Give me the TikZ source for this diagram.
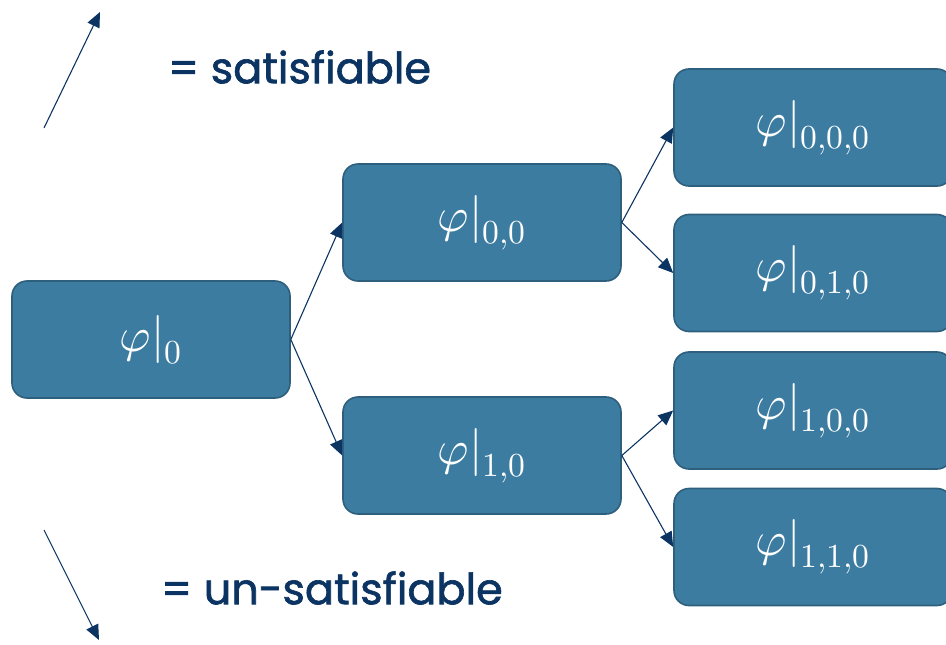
\documentclass[tikz,border=0pt]{standalone}
\usepackage{fontspec}
\usepackage{unicode-math}
\setmainfont{Poppins}[FakeBold=1.5]
\setmathfont{Latin Modern Math}
\usetikzlibrary{arrows.meta}
\definecolor{boxfill}{HTML}{3D7CA1}
\definecolor{boxedge}{HTML}{2E5F7C}
\definecolor{navy}{HTML}{0B3462}
\tikzset{
  state/.style={draw=boxedge, line width=1.6pt, fill=boxfill, rounded corners=15pt,
    minimum width=278pt, minimum height=117pt, inner sep=0pt, text=white,
    font=\fontsize{48}{54}\selectfont},
  link/.style={draw=navy, line width=1.1pt, -{Triangle[length=15pt, width=13pt]}},
  legend/.style={text=navy, font=\fontsize{43}{48}\selectfont, anchor=west, inner sep=0pt}
}
\newcommand{\restr}[1]{$\varphi|_{#1}$}
\begin{document}
\begin{tikzpicture}[x=1pt, y=-1pt]
  \useasboundingbox (0,0) rectangle (946,645);
  \begin{scope}
    \clip (0,0) rectangle (946,645);
    \node[state] (r)   at (151,339.5) {\restr{0}};
    \node[state] (a)   at (482,222.5) {\restr{0,0}};
    \node[state] (b)   at (482,455.5) {\restr{1,0}};
    \node[state] (aa)  at (813,127.5) {\restr{0,0,0}};
    \node[state] (ab)  at (813,273)   {\restr{0,1,0}};
    \node[state] (ba)  at (813,410.5) {\restr{1,0,0}};
    \node[state] (bb)  at (813,547)   {\restr{1,1,0}};
  \end{scope}
  \draw[link] (r.east) -- (a.west);
  \draw[link] (r.east) -- (b.west);
  \draw[link] (a.east) -- (aa.west);
  \draw[link] (a.east) -- (ab.west);
  \draw[link] (b.east) -- (ba.west);
  \draw[link] (b.east) -- (bb.west);
  % legend
  \coordinate (s0) at (44,128);
  \coordinate (s1) at (100,12);
  \coordinate (u0) at (44,530);
  \coordinate (u1) at (99,640);
  \draw[link] (s0) -- (s1);
  \draw[link] (u0) -- (u1);
  \node[legend] (sat)   at (168,67)  {= satisfiable};
  \node[legend] (unsat) at (161,588) {= un-satisfiable};
\end{tikzpicture}
\end{document}
